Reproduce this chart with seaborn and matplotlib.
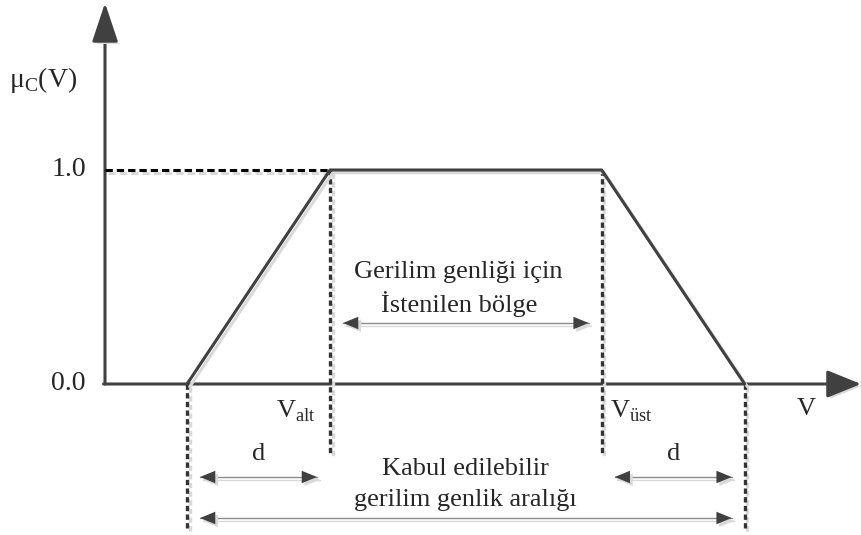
import matplotlib
matplotlib.use("Agg")
import matplotlib.pyplot as plt
import matplotlib.patheffects as pe
import seaborn as sns

# trapezoidal membership function mu_C(V)
v_points = [1.0, 2.0, 3.9, 4.9]      # V0, V_alt, V_ust, Vmax
mu_values = [0.0, 1.0, 1.0, 0.0]
y_ticks = [0.0, 1.0]
y_tick_labels = ["0.0", "1.0"]

dark = "#404040"
shade = "#d9d9d9"

sns.set_style("white")
plt.rcParams["font.family"] = ["Liberation Serif", "DejaVu Serif"]
plt.rcParams["mathtext.fontset"] = "custom"
plt.rcParams["mathtext.rm"] = "Liberation Serif"


def py(p):
    # pixel row -> data y
    return (384 - p) / 214


def px(p):
    # pixel column -> data x
    return 1 + (p - 187) / 143


line_fx = [pe.SimpleLineShadow(offset=(2, -2), shadow_color=shade, alpha=1), pe.Normal()]
patch_fx = [pe.SimplePatchShadow(offset=(2, -2), shadow_rgbFace=shade, alpha=1), pe.Normal()]

fig = plt.figure(figsize=(8.62, 5.35), dpi=100)
ax = fig.add_axes([0, 0, 1, 1])
ax.set_xlim(px(0), px(862))
ax.set_ylim(py(535), py(0))
ax.axis("off")

x0 = px(105)

# axes with arrow heads
ax.annotate("", xy=(x0, py(3)), xytext=(x0, 0),
            arrowprops=dict(arrowstyle="-|>,head_length=2.4,head_width=0.8", mutation_scale=10,
                            color=dark, lw=2.2, shrinkA=0, shrinkB=0, path_effects=patch_fx))
ax.annotate("", xy=(px(861), 0), xytext=(x0 - 0.01, 0),
            arrowprops=dict(arrowstyle="-|>,head_length=2.1,head_width=0.85", mutation_scale=10,
                            color=dark, lw=2.2, shrinkA=0, shrinkB=0, path_effects=patch_fx))

# membership function
sns.lineplot(x=v_points, y=mu_values, ax=ax, color=dark, lw=2.2, estimator=None,
             path_effects=line_fx, zorder=4)

# dotted guides
ax.plot([x0, v_points[1]], [y_ticks[1], y_ticks[1]], color="black", lw=2.2,
        linestyle=(0, (2.4, 1.3)), path_effects=line_fx, zorder=3)
guide_bottom = [py(530), py(455), py(455), py(530)]
for v, m, b in zip(v_points, mu_values, guide_bottom):
    ax.plot([v, v], [m, b], color="#333333", lw=2.4, linestyle=(0, (1.6, 1.0)),
            path_effects=line_fx, zorder=3)

# tick labels
for t, lab in zip(y_ticks, y_tick_labels):
    ax.text(px(86), t, lab, fontsize=20, ha="right", va="center")

ax.text(px(9), py(80), r"μ$_\mathregular{C}$(V)", fontsize=20, ha="left", va="center")
ax.text(v_points[1] - 0.1, py(411), r"V$_\mathregular{alt}$", fontsize=19, ha="right", va="center")
ax.text(v_points[2] + 0.06, py(411), r"V$_\mathregular{üst}$", fontsize=19, ha="left", va="center")
ax.text(px(806), py(409), "V", fontsize=19, ha="center", va="center")


def double_arrow(xa, xb, y):
    ax.plot([xa, xb], [y, y], color="#8c8c8c", lw=1.0, path_effects=line_fx, zorder=2)
    ax.annotate("", xy=(xb, y), xytext=(xa, y),
                arrowprops=dict(arrowstyle="<|-|>,head_length=1.1,head_width=0.45", mutation_scale=10,
                                color=dark, lw=0, shrinkA=0, shrinkB=0, path_effects=patch_fx))


pad = 13 / 143
double_arrow(v_points[0] + pad, v_points[1] - pad, py(477))
double_arrow(v_points[2] + pad, v_points[3] - pad, py(477))
double_arrow(v_points[0] + pad, v_points[3] - pad, py(518))
double_arrow(v_points[1] + pad, v_points[2] - pad, py(323))

ax.text((v_points[0] + v_points[1]) / 2, py(454), "d", fontsize=19, ha="center", va="center")
ax.text((v_points[2] + v_points[3]) / 2, py(454), "d", fontsize=19, ha="center", va="center")

mid = (v_points[1] + v_points[2]) / 2
ax.text(mid - 0.05, py(272), "Gerilim genliği için", fontsize=19, ha="center", va="center")
ax.text(mid - 0.05, py(304), "İstenilen bölge", fontsize=19, ha="center", va="center")

full = (v_points[0] + v_points[3]) / 2
ax.text(full, py(469), "Kabul edilebilir", fontsize=19, ha="center", va="center")
ax.text(full, py(500), "gerilim genlik aralığı", fontsize=19, ha="center", va="center")

plt.savefig("out.png", dpi=100)
